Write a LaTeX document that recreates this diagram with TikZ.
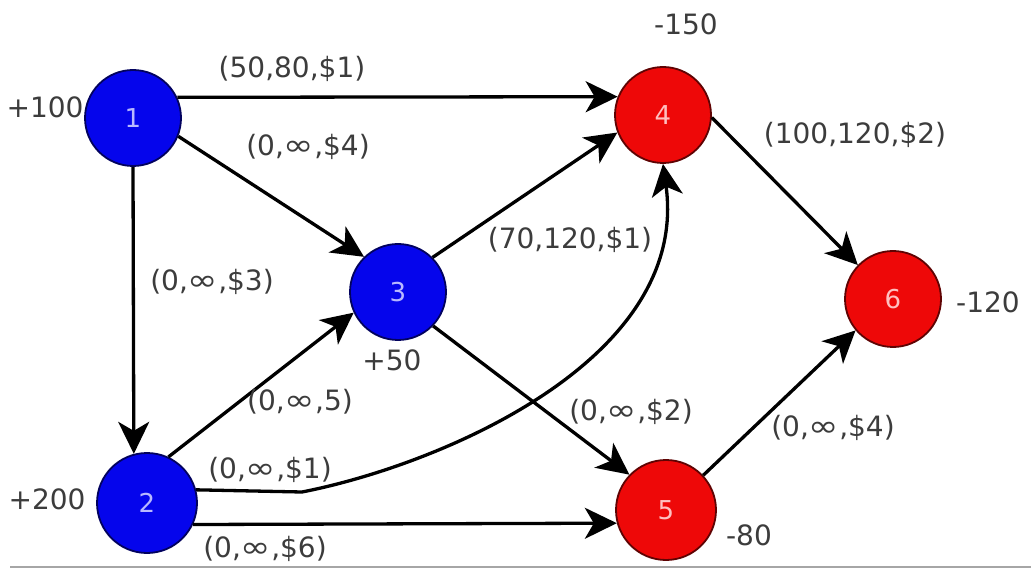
\documentclass[tikz,border=0pt]{standalone}
\usepackage{fontspec}
\usepackage{graphicx}
\setmainfont{DejaVu Sans}
\usetikzlibrary{arrows.meta}
\definecolor{nblue}{HTML}{0505EC}
\definecolor{nred}{HTML}{EE0808}
\definecolor{txt}{HTML}{3C3C3C}
\newcommand{\infsym}{\scalebox{1.3}[1.05]{∞}}
\begin{document}
\begin{tikzpicture}[x=1pt,y=-1pt,
  vert/.style={circle,draw,line width=1.8pt,inner sep=0pt,minimum size=96pt,font=\fontsize{26}{26}\selectfont},
  bluev/.style={vert,fill=nblue,draw=nblue!40!black,text=blue!28!white},
  redv/.style={vert,fill=nred,draw=nred!40!black,text=red!25!white},
  lab/.style={font=\fontsize{28}{28}\selectfont,text=txt,inner sep=0pt},
  arr/.style={line width=3.3pt,-{Stealth[length=32pt,width=31pt,inset=9pt]}},
  ]
\useasboundingbox (0,0) rectangle (1031,569);
\fill[white] (0,0) rectangle (1031,569);
% vertices
\node[bluev] (n1) at (133,118) {1};
\node[bluev,minimum size=100pt] (n2) at (147,503) {2};
\node[bluev] (n3) at (398,292) {3};
\node[redv] (n4) at (663,115) {4};
\node[redv,minimum size=100pt] (n5) at (666,510) {5};
\node[redv] (n6) at (893,299) {6};
% edges
\draw[arr] (n1.25) -- (n4.158);
\draw[arr] (n1.-22) -- (n3.134);
\draw[arr] (n1.south) -- (n2.105);
\draw[arr] (n2.65) -- (n3.205);
\draw[arr] (n3.45) -- (n4.201);
\draw[arr] (n4.-3) -- (n6.136);
\draw[arr] (n3.-44) -- (n5.136);
\draw[arr] (n2.-25) -- (n5.195);
\draw[arr] (n5.43) -- (n6.220);
\coordinate (bend) at (302,492);
\draw[arr] (n2.15) -- (bend) .. controls (440,465) and (690,360) .. (n4.south);
% supplies / demands
\node[lab] (s1) at (45,107) {+100};
\node[lab] (s4) at (686,24) {-150};
\node[lab] (s6) at (988,302) {-120};
\node[lab] (s3) at (392,360) {+50};
\node[lab] (s2) at (47,499) {+200};
\node[lab] (s5) at (749,535) {-80};
% edge labels
\node[lab] (a14) at (292,69) {(50,80,\$1)};
\node[lab] (a13) at (308,147) {(0,\infsym,\$4)};
\node[lab] (a46) at (855,135) {(100,120,\$2)};
\node[lab] (a12) at (212,282) {(0,\infsym,\$3)};
\node[lab] (a34) at (570,240) {(70,120,\$1)};
\node[lab] (a23) at (300,402) {(0,\infsym,5)};
\node[lab] (a24) at (270,470) {(0,\infsym,\$1)};
\node[lab] (a25) at (265,549) {(0,\infsym,\$6)};
\node[lab] (a35) at (631,412) {(0,\infsym,\$2)};
\node[lab] (a56) at (833,428) {(0,\infsym,\$4)};
% bottom rule
\coordinate (bl) at (10,567);
\coordinate (br) at (1031,567);
\draw[gray!70,line width=2pt] (bl) -- (br);
\end{tikzpicture}
\end{document}
